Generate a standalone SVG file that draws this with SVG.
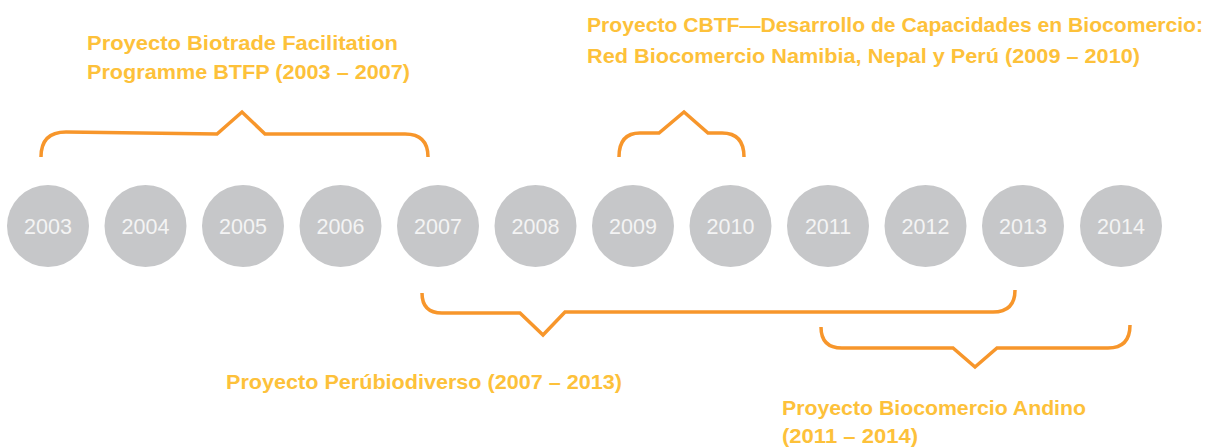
<svg xmlns="http://www.w3.org/2000/svg" width="1207" height="447" viewBox="0 0 1207 447">
<style>
.yr circle{fill:#c6c7c9}
.yr text{fill:#f4f4f4;font-family:"Liberation Sans",Arial,sans-serif;font-size:21.5px;text-anchor:middle}
.lbl{fill:#fdc13a;font-family:"Liberation Sans",Arial,sans-serif;font-weight:bold;font-size:21px}
.br{fill:none;stroke:#f7962b;stroke-width:3.5;stroke-linejoin:miter;stroke-linecap:butt}
</style>
<rect width="1207" height="447" fill="#ffffff"/>
<g id="y2003" class="yr"><circle cx="48" cy="226" r="41"/><text x="48" y="234">2003</text></g>
<g id="y2004" class="yr"><circle cx="145.5" cy="226" r="41"/><text x="145.5" y="234">2004</text></g>
<g id="y2005" class="yr"><circle cx="243" cy="226" r="41"/><text x="243" y="234">2005</text></g>
<g id="y2006" class="yr"><circle cx="340.5" cy="226" r="41"/><text x="340.5" y="234">2006</text></g>
<g id="y2007" class="yr"><circle cx="438" cy="226" r="41"/><text x="438" y="234">2007</text></g>
<g id="y2008" class="yr"><circle cx="535.5" cy="226" r="41"/><text x="535.5" y="234">2008</text></g>
<g id="y2009" class="yr"><circle cx="633" cy="226" r="41"/><text x="633" y="234">2009</text></g>
<g id="y2010" class="yr"><circle cx="730.5" cy="226" r="41"/><text x="730.5" y="234">2010</text></g>
<g id="y2011" class="yr"><circle cx="828" cy="226" r="41"/><text x="828" y="234">2011</text></g>
<g id="y2012" class="yr"><circle cx="925.5" cy="226" r="41"/><text x="925.5" y="234">2012</text></g>
<g id="y2013" class="yr"><circle cx="1023" cy="226" r="41"/><text x="1023" y="234">2013</text></g>
<g id="y2014" class="yr"><circle cx="1121" cy="226" r="41"/><text x="1121" y="234">2014</text></g>
<g id="connectors">
<path class="br" d="M41 157 Q41 132 66 132 L217 134 L242 112 L265 134 L405 134 Q428 134 428 157"/>
<path class="br" d="M619 157 Q619 133 640 133 L659 133 L684 112 L708 133 L722 133 Q744 133 744 157"/>
<path class="br" d="M422 293 Q422 313 442 313 L520 313 L543 335 L565 312 L993 312 Q1015 312 1015 290"/>
<path class="br" d="M821 327 Q821 348 842 348 L953 348 L975 367 L997 348 L1108 348 Q1130 348 1130 325"/>
</g>
<g id="label-btfp">
<text class="lbl" x="87" y="50" textLength="311" lengthAdjust="spacingAndGlyphs">Proyecto Biotrade Facilitation</text>
<text class="lbl" x="87" y="79" textLength="323" lengthAdjust="spacingAndGlyphs">Programme BTFP (2003 – 2007)</text>
</g>
<g id="label-cbtf">
<text class="lbl" x="587" y="32" textLength="616" lengthAdjust="spacingAndGlyphs">Proyecto CBTF—Desarrollo de Capacidades en Biocomercio:</text>
<text class="lbl" x="587" y="63" textLength="553" lengthAdjust="spacingAndGlyphs">Red Biocomercio Namibia, Nepal y Perú (2009 – 2010)</text>
</g>
<g id="label-peru">
<text class="lbl" x="226" y="389" textLength="396" lengthAdjust="spacingAndGlyphs">Proyecto Perúbiodiverso (2007 – 2013)</text>
</g>
<g id="label-andino">
<text class="lbl" x="782" y="415" textLength="304" lengthAdjust="spacingAndGlyphs">Proyecto Biocomercio Andino</text>
<text class="lbl" x="782" y="443" textLength="136" lengthAdjust="spacingAndGlyphs">(2011 – 2014)</text>
</g>
</svg>
